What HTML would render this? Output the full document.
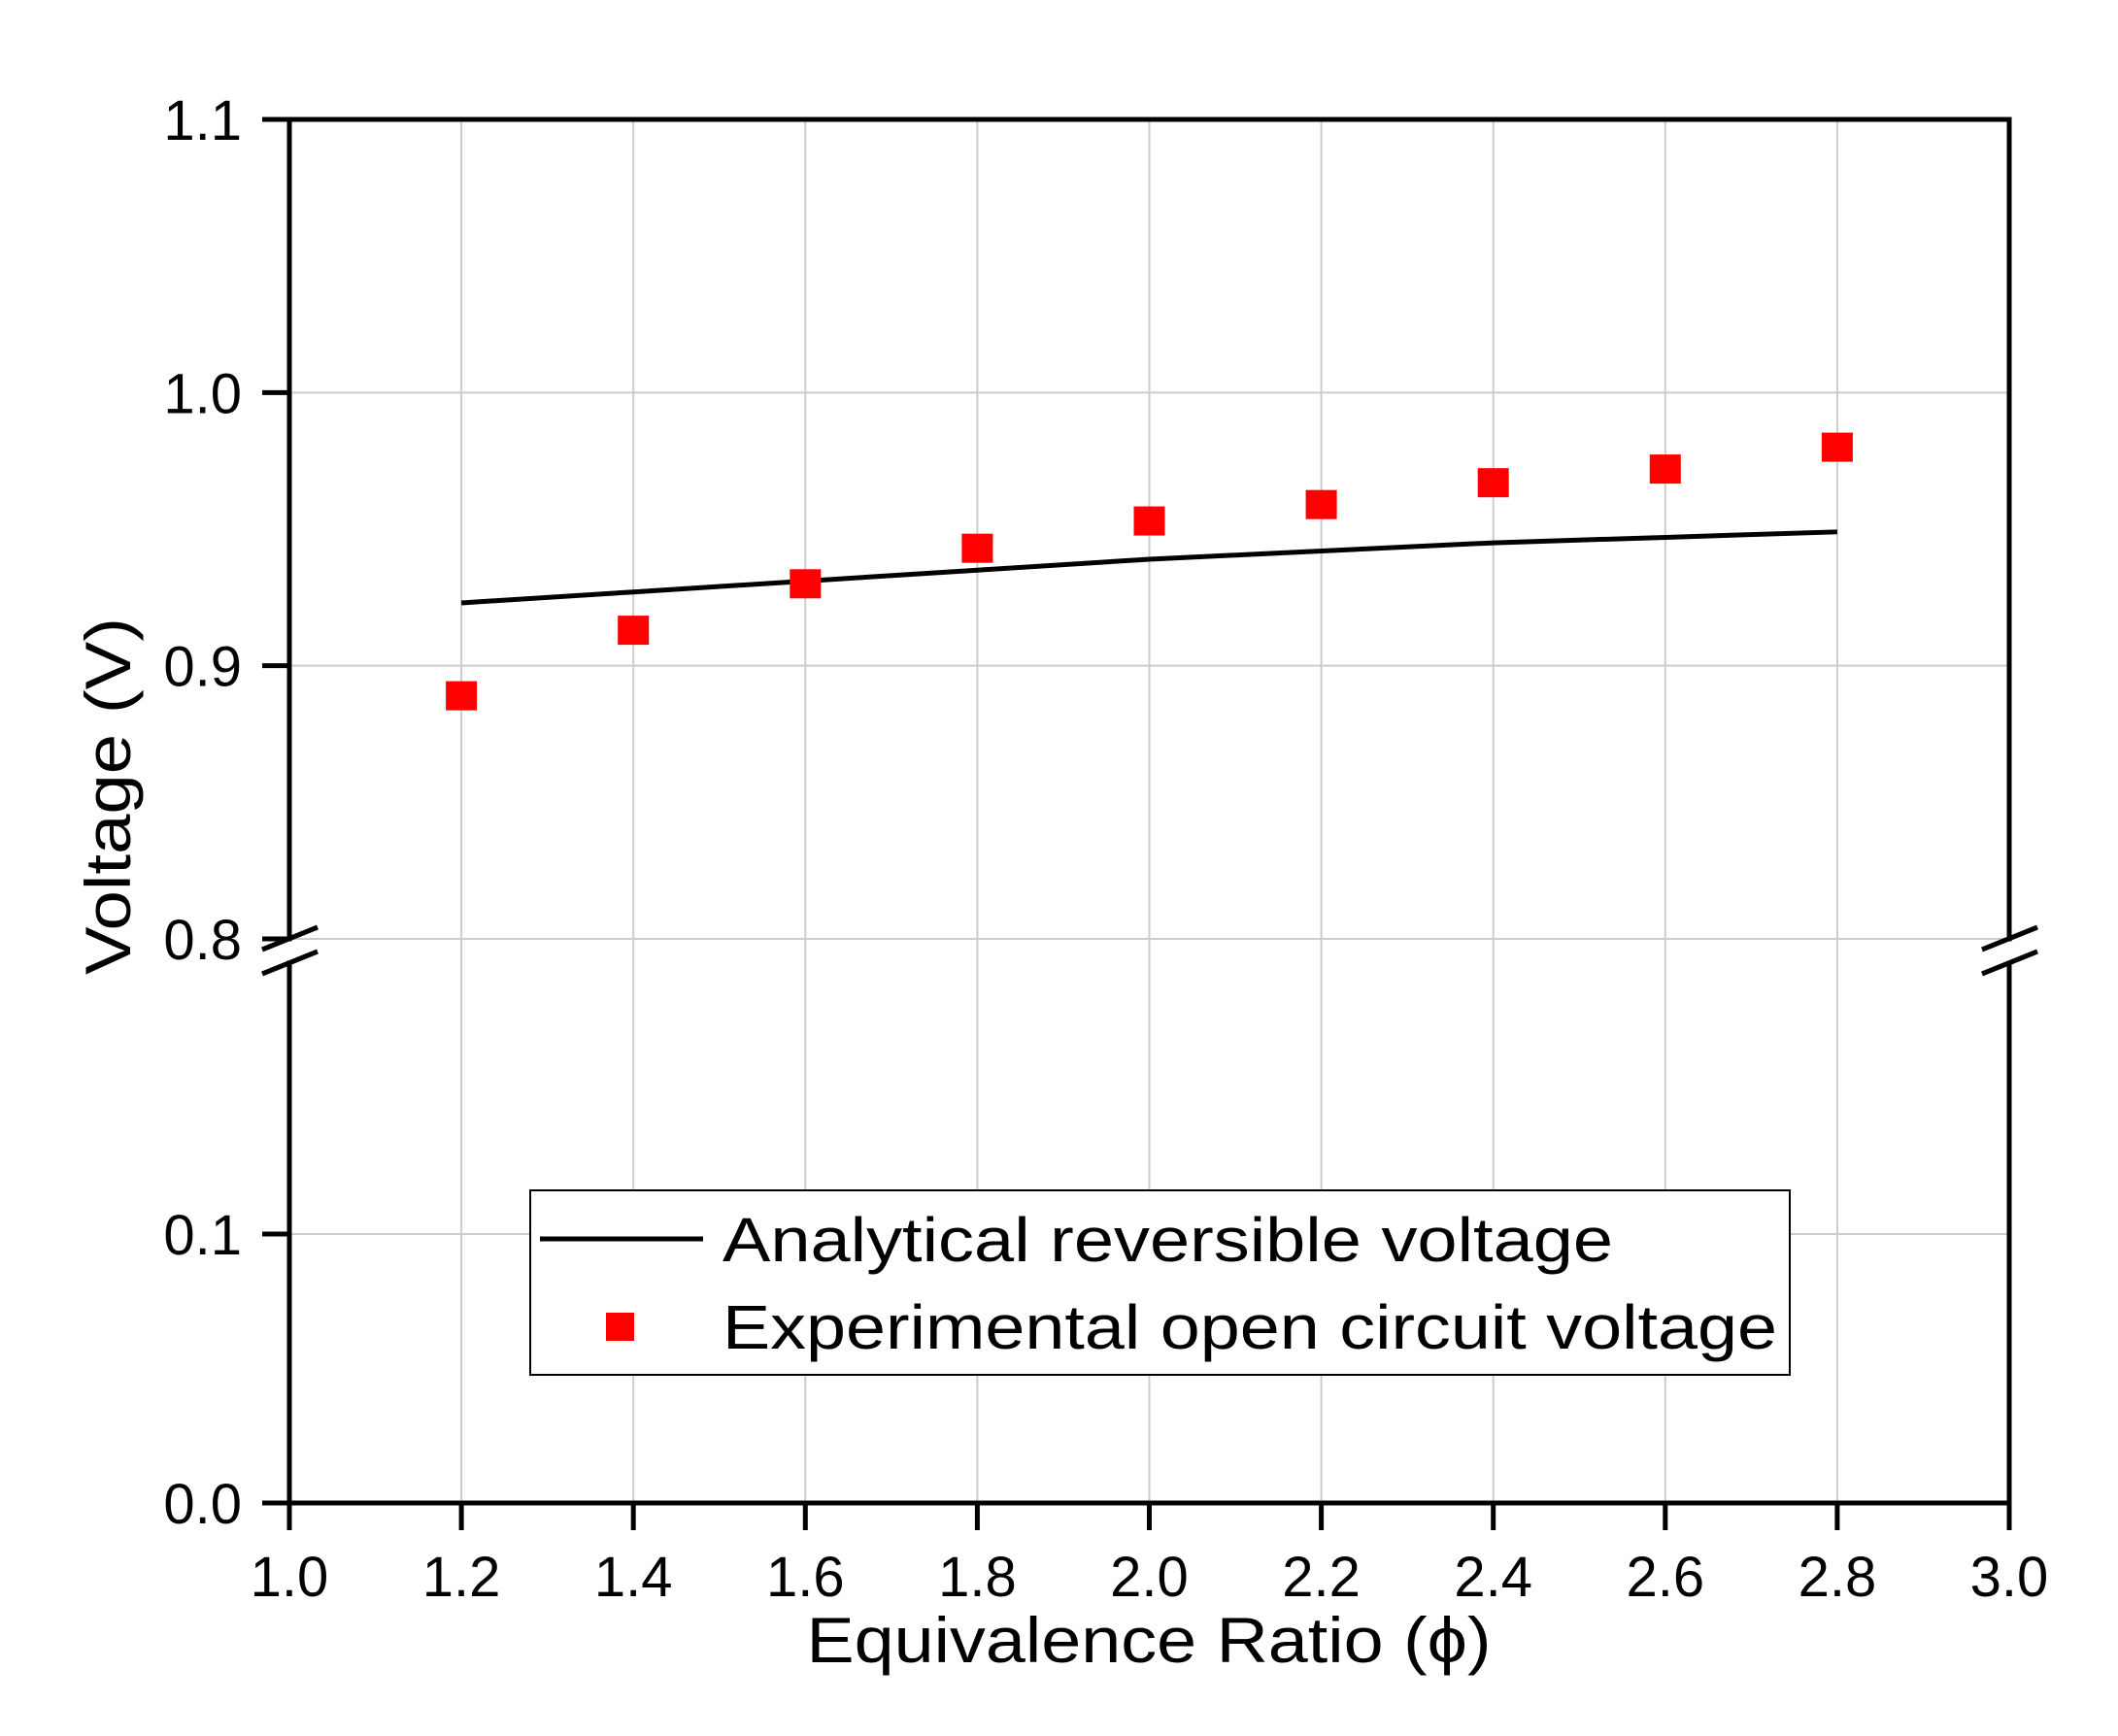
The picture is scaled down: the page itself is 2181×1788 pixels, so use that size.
<!DOCTYPE html>
<html><head><meta charset="utf-8"><style>
html,body{margin:0;padding:0;background:#fff;}
svg{display:block;font-family:"Liberation Sans",Arial,sans-serif;}
</style></head><body>
<svg id="chart" width="2181" height="1788" viewBox="0 0 2181 1788" xmlns="http://www.w3.org/2000/svg">
<g id="grid"></g>
<g id="axes"></g>
<g id="series"></g>
<g id="legend">
  <rect x="546" y="1226" width="1297" height="190" fill="#fff" stroke="#000" stroke-width="2"/>
  <line x1="556" y1="1276" x2="724" y2="1276" stroke="#000" stroke-width="5"/>
  <text x="744" y="1299" font-size="64" textLength="917" lengthAdjust="spacingAndGlyphs">Analytical reversible voltage</text>
  <rect x="624" y="1352" width="29" height="29" fill="#ff0000"/>
  <text x="744" y="1389" font-size="64" textLength="1086" lengthAdjust="spacingAndGlyphs">Experimental open circuit voltage</text>
</g>
<text x="1183" y="1712" font-size="66" text-anchor="middle" textLength="705" lengthAdjust="spacingAndGlyphs">Equivalence Ratio (ϕ)</text>
<text transform="translate(134,820) rotate(-90)" font-size="66" text-anchor="middle" textLength="368" lengthAdjust="spacingAndGlyphs">Voltage (V)</text>
</svg>
<script>
const xTicks = [1.0,1.2,1.4,1.6,1.8,2.0,2.2,2.4,2.6,2.8,3.0];
const xTickLabels = ["1.0","1.2","1.4","1.6","1.8","2.0","2.2","2.4","2.6","2.8","3.0"];
const yTicksUpper = [0.8,0.9,1.0,1.1];
const yTickLabelsUpper = ["0.8","0.9","1.0","1.1"];
const yTicksLower = [0.0,0.1];
const yTickLabelsLower = ["0.0","0.1"];
const phi = [1.2,1.4,1.6,1.8,2.0,2.2,2.4,2.6,2.8];
const analyticalVoltage = [0.923,0.927,0.931,0.935,0.939,0.942,0.945,0.947,0.949];
const experimentalVoltage = [0.889,0.913,0.930,0.943,0.953,0.959,0.967,0.972,0.980];

const NS="http://www.w3.org/2000/svg";
const L=298,R=2069,T=123,B=1548;
function xs(v){return L+(v-1.0)/2.0*(R-L);}
function ys(v){
  if(v>=0.8) return 967-(v-0.8)/0.3*(967-T);
  return B-v/0.1*(B-1271);
}
function mk(tag,attrs,parent){const e=document.createElementNS(NS,tag);for(const k in attrs)e.setAttribute(k,attrs[k]);parent.appendChild(e);return e;}
const grid=document.getElementById('grid'),axes=document.getElementById('axes'),series=document.getElementById('series');

xTicks.forEach((v,i)=>{
  if(i>0&&i<xTicks.length-1){
    const g=mk('line',{x1:xs(v),y1:T,x2:xs(v),y2:B,stroke:'#cccccc','stroke-width':2},grid);
    
    
  }
  const t=mk('line',{x1:xs(v),y1:B,x2:xs(v),y2:B+28,stroke:'#000','stroke-width':5},axes);
  
  
  const lb=mk('text',{x:xs(v),y:1644,'font-size':58,'text-anchor':'middle'},axes);
  lb.textContent=xTickLabels[i];
  
  
});
const yT=yTicksUpper.concat(yTicksLower), yL=yTickLabelsUpper.concat(yTickLabelsLower);
yT.forEach((v,i)=>{
  if(v!==1.1&&v!==0.0){
    const g=mk('line',{x1:L,y1:ys(v),x2:R,y2:ys(v),stroke:'#cccccc','stroke-width':2},grid);
    
    
  }
  const t=mk('line',{x1:270,y1:ys(v),x2:L,y2:ys(v),stroke:'#000','stroke-width':5},axes);
  
  
  const lb=mk('text',{x:249,y:ys(v)+21,'font-size':58,'text-anchor':'end'},axes);
  lb.textContent=yL[i];
  
  
});
[[L,T,R,T],[L,B,R,B],[L,T,L,967],[L,992,L,B],[R,T,R,967],[R,992,R,B]].forEach(s=>{
  const a=mk('line',{x1:s[0],y1:s[1],x2:s[2],y2:s[3],stroke:'#000','stroke-width':5,'stroke-linecap':'square'},axes);
  
  
});
[L,R].forEach(x=>{
  [0,25].forEach(d=>{
    const b=mk('line',{x1:x-28,y1:978+d,x2:x+29,y2:955+d,stroke:'#000','stroke-width':5},axes);
    
    
  });
});
const pts=phi.map((p,i)=>xs(p)+','+ys(analyticalVoltage[i])).join(' ');
const pl=mk('polyline',{points:pts,fill:'none',stroke:'#000','stroke-width':5},series);


phi.forEach((p,i)=>{
  const r=mk('rect',{x:xs(p)-16,y:ys(experimentalVoltage[i])-15,width:32,height:30,fill:'#ff0000'},series);
  
  
});
</script>
</body></html>
